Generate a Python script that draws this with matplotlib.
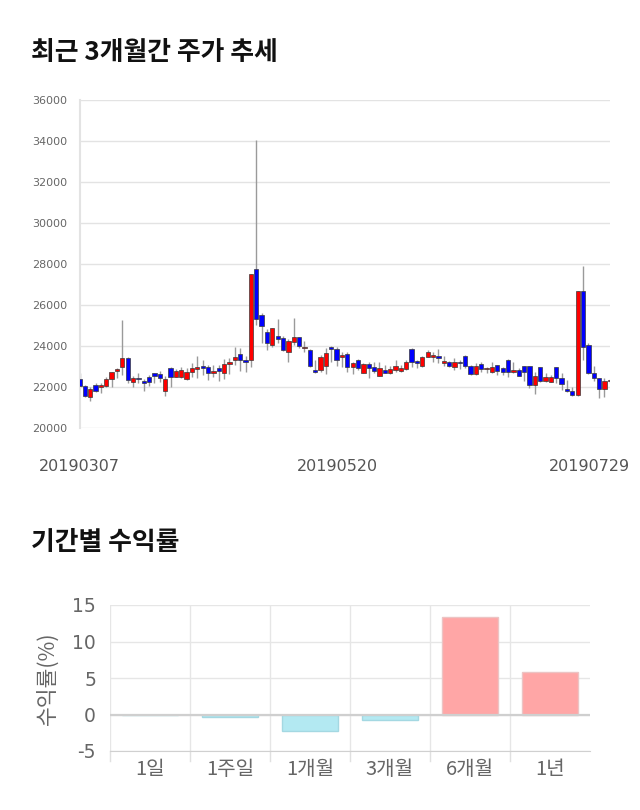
import matplotlib
matplotlib.use("Agg")
import matplotlib.pyplot as plt
import matplotlib.transforms as mtrans
import numpy as np

plt.rcParams['font.family'] = ['Noto Sans CJK KR', 'DejaVu Sans']

# ---------------- data ----------------
opens = [22374, 22049, 21529, 22098, 21984, 22049, 22374, 22797, 22992, 23398,
         22260, 22423, 22293, 22504, 22667, 22618, 21821, 22911, 22504, 22504,
         22407, 22748, 22895, 22960, 22976, 22699, 22927, 22699, 23138, 23317,
         23626, 23317, 23318, 27757, 25513, 24667, 24049, 24488, 24407, 23691,
         24195, 24423, 23903, 23805, 22830, 22829, 23024, 23968, 23854, 23447,
         23610, 22960, 23317, 22700, 23106, 22960, 22537, 22829, 22667, 22829,
         22781, 22878, 23870, 23268, 23041, 23480, 23480, 23496, 23155, 23220,
         22992, 23236, 23512, 23024, 22618, 23122, 22862, 22716, 23073, 22911,
         23317, 22716, 22829, 23024, 23025, 22098, 22960, 22309, 22260, 22960,
         22423, 21903, 21805, 21594, 26699, 24049, 22667, 22423, 21903, 22293]
highs = [22667, 22100, 21984, 22179, 22179, 22472, 22748, 22910, 25268, 23480,
         22537, 22667, 22390, 22586, 22700, 22797, 22537, 22992, 22862, 22992,
         22911, 23154, 23512, 23317, 23073, 23073, 23073, 23350, 23398, 23967,
         23918, 23512, 27513, 34049, 25594, 24813, 24894, 25317, 24488, 24325,
         25350, 24455, 24244, 23837, 23317, 23561, 23886, 24000, 23968, 23724,
         23724, 23236, 23350, 23155, 23236, 23236, 23236, 23073, 23024, 23317,
         23073, 23317, 23919, 23317, 23512, 23805, 23724, 23837, 23512, 23268,
         23431, 23317, 23561, 23073, 23155, 23236, 22992, 23236, 23073, 22992,
         23350, 23236, 22911, 23024, 23025, 22748, 22992, 22667, 22586, 22992,
         22667, 22342, 22016, 26699, 27902, 24163, 23025, 22455, 22455, 22400]
lows = [22000, 21497, 21334, 21772, 21691, 21984, 22016, 22423, 22585, 22179,
        21984, 22179, 21821, 22049, 22212, 22260, 21561, 22016, 22472, 22423,
        22342, 22472, 22423, 22585, 22342, 22504, 22309, 22407, 22634, 23073,
        22797, 22748, 22992, 25025, 24163, 23805, 23968, 24163, 23772, 23236,
        24049, 23886, 23691, 22992, 22667, 22748, 22634, 23236, 23041, 22992,
        22715, 22634, 22829, 22700, 22423, 22699, 22537, 22667, 22634, 22748,
        22748, 22829, 22992, 22911, 22992, 23447, 23236, 23155, 23024, 22992,
        22829, 22878, 22911, 22586, 22586, 22748, 22667, 22667, 22586, 22586,
        22504, 22667, 22537, 22293, 21935, 21659, 22260, 22260, 22228, 22212,
        21854, 21772, 21577, 21577, 23317, 22634, 22293, 21480, 21528, 22200]
closes = [22049, 21561, 21902, 21805, 22098, 22407, 22732, 22878, 23398, 22342,
          22423, 22374, 22212, 22244, 22537, 22455, 22374, 22504, 22780, 22813,
          22715, 22911, 22976, 22944, 22699, 22797, 22797, 23106, 23220, 23480,
          23317, 23236, 27513, 25318, 24992, 24130, 24862, 24325, 23805, 24228,
          24423, 24016, 23968, 23024, 22748, 23447, 23675, 23854, 23317, 23561,
          22992, 23155, 22943, 23122, 22911, 22797, 22911, 22699, 22862, 23008,
          22911, 23220, 23236, 23187, 23464, 23707, 23545, 23431, 23268, 23008,
          23203, 23155, 23024, 22618, 23024, 22862, 22943, 22960, 22797, 22748,
          22716, 22829, 22553, 22716, 22098, 22537, 22309, 22504, 22504, 22423,
          22147, 21789, 21594, 26699, 23968, 22667, 22423, 21903, 22293, 22309]
date_ticks = [0, 50, 99]
date_labels = ['20190307', '20190520', '20190729']
price_ticks = [20000, 22000, 24000, 26000, 28000, 30000, 32000, 34000, 36000]

periods = ['1일', '1주일', '1개월', '3개월', '6개월', '1년']
returns = [0.0, -0.3, -2.2, -0.7, 13.4, 5.8]
return_ticks = [-5, 0, 5, 10, 15]

# ---------------- figure ----------------
W, H = 640, 810
fig = plt.figure(figsize=(W / 100, H / 100), dpi=100)
fig.patch.set_facecolor('white')

def px_axes(x0, y0, x1, y1):
    return fig.add_axes([x0 / W, 1 - y1 / H, (x1 - x0) / W, (y1 - y0) / H])

# Titles
fig.text(31 / W, 1 - 52 / H, '최근 3개월간 주가 추세', fontsize=18.6, fontweight='bold',
         va='center', ha='left', color='#111111')
fig.text(31 / W, 1 - 543 / H, '기간별 수익률', fontsize=18.6, fontweight='bold',
         va='center', ha='left', color='#111111')

# ---------------- candlestick ----------------
ax = px_axes(79.5, 100, 609.8, 428)
o = np.array(opens, float)
h = np.array(highs, float)
l = np.array(lows, float)
c = np.array(closes, float)
x = np.arange(len(o))
up = c >= o
ax.vlines(x, l, h, color='#9a9a9a', linewidth=1.0, zorder=2)
bottoms = np.minimum(o, c)
heights = np.maximum(np.abs(c - o), 60)
cols = np.where(up, '#ff0000', '#0000ff')
ax.bar(x, heights, bottom=bottoms, width=0.8, color=cols, edgecolor='#3a3a3a',
       linewidth=0.5, zorder=3)
ax.set_xlim(0, len(o) - 1)
ax.set_ylim(20000, 36000)
ax.set_yticks(price_ticks)
ax.set_yticklabels([str(v) for v in price_ticks], fontsize=8, color='#666666',
                   family=['DejaVu Sans'])
ax.tick_params(axis='y', length=0, pad=9)
ax.grid(axis='y', color='#e3e3e3', linewidth=1.0, zorder=0)
ax.set_axisbelow(True)
for s in ['top', 'right', 'bottom']:
    ax.spines[s].set_visible(False)
ax.spines['left'].set_color('#e3e3e3')
ax.spines['left'].set_linewidth(1.5)
ax.set_xticks(date_ticks)
ax.set_xticklabels(date_labels, fontsize=11.5, color='#555555', family=['DejaVu Sans'])
ax.tick_params(axis='x', length=0, pad=22)
offsets = [0, -10, -20]
for lab, dx in zip(ax.get_xticklabels(), offsets):
    lab.set_transform(lab.get_transform() +
                      mtrans.ScaledTranslation(dx / 100, 0, fig.dpi_scale_trans))

# ---------------- returns bar chart ----------------
bx = px_axes(110, 605, 590, 751)
xi = np.arange(len(periods))
bcols = ['#ffa6a6' if v > 0 else '#b3e9f2' for v in returns]
ecols = ['#ecc4c4' if v > 0 else '#a4d8e2' for v in returns]
bx.bar(xi, returns, width=0.7, color=bcols, edgecolor=ecols, linewidth=1.0, zorder=3)
bx.set_xlim(-0.5, len(periods) - 0.5)
bx.set_ylim(-5, 15)
bx.set_yticks(return_ticks)
bx.set_yticklabels([str(v) for v in return_ticks], fontsize=13.5, color='#666666',
                   family=['DejaVu Sans'])
bx.tick_params(axis='y', length=0, pad=10)
bx.grid(axis='y', color='#e6e6e6', linewidth=1.0, zorder=0)
bx.axhline(0, color='#cfcfcf', linewidth=1.6, zorder=4)
for s in ['top', 'right', 'left']:
    bx.spines[s].set_visible(False)
bx.spines['bottom'].set_color('#d0d0d0')
# vertical category separators
for b in np.arange(-0.5, len(periods) - 0.5, 1.0):
    bx.axvline(b, color='#e6e6e6', linewidth=1.0, zorder=0)
    bx.plot([b, b], [0, -0.07], transform=bx.get_xaxis_transform(), color='#e0e0e0',
            linewidth=1.0, clip_on=False)
bx.set_xticks(xi)
bx.set_xticklabels(periods, fontsize=14.5, color='#666666')
bx.tick_params(axis='x', length=0, pad=6)
bx.set_ylabel('수익률(%)', fontsize=15.5, color='#666666', labelpad=10,
              fontweight='light')

fig.savefig('out.png', dpi=100, facecolor='white')
